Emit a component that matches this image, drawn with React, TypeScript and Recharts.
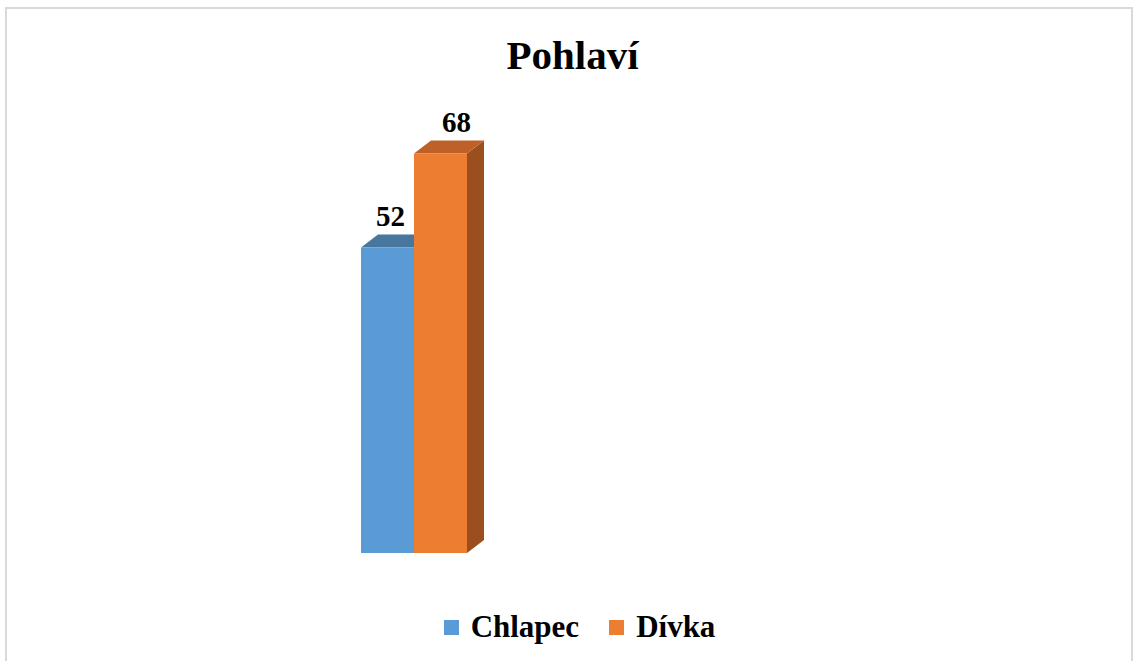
import React from 'react';
import { BarChart, Bar, XAxis, YAxis, LabelList } from 'recharts';

// Pohlaví – one category, two series
const categories = ['Pohlaví'];
const seriesNames = ['Chlapec', 'Dívka'];
const chlapecValues = [52];
const divkaValues = [68];

const FRONT = ['#5B9BD5', '#ED7D31'];
const TOP = ['#47769F', '#BE6128'];
const SIDE = ['#3D6690', '#9B4F1F'];
const DX = 17;
const DY = 13;
const FONT = '"Liberation Serif", "Times New Roman", serif';

const data = categories.map((c, i) => ({
    name: c,
    Chlapec: chlapecValues[i],
    Dívka: divkaValues[i],
}));

// 3D-ish column: front face, top face, side face
const makeShape = (idx: number) => (props: any) => {
    const { x, y, width, height } = props;
    if (height == null || height <= 0) return <g />;
    const top = `${x},${y} ${x + DX},${y - DY} ${x + width + DX},${y - DY} ${x + width},${y}`;
    const side = `${x + width},${y} ${x + width + DX},${y - DY} ${x + width + DX},${y + height - DY} ${x + width},${y + height}`;
    return (
        <g>
            <polygon points={side} fill={SIDE[idx]} />
            <polygon points={top} fill={TOP[idx]} />
            <rect x={x} y={y} width={width} height={height} fill={FRONT[idx]} />
        </g>
    );
};

const labelShift = [3, 16];

const makeLabel = (idx: number) => (props: any) => {
    const { x, y, width, value } = props;
    return (
        <text
            x={x + width / 2 + labelShift[idx]}
            y={y - DY - 9}
            textAnchor="middle"
            fontFamily={FONT}
            fontWeight="bold"
            fontSize={29}
            fill="#000"
        >
            {value}
        </text>
    );
};

export default function App() {
    return (
        <div style={{ position: 'absolute', left: 0, top: 0, width: 1137, height: 661, background: '#fff', overflow: 'hidden' }}>
            <div style={{ position: 'absolute', left: 5, top: 7, width: 1124, height: 660, border: '2px solid #D9D9D9' }} />
            <div style={{ position: 'absolute', left: 4, top: 35, width: 1137, textAlign: 'center', fontFamily: FONT, fontWeight: 'bold', fontSize: 41, lineHeight: '41px', color: '#000' }}>
                Pohlaví
            </div>
            <div style={{ position: 'absolute', left: 0, top: 0 }}>
                <BarChart width={1137} height={661} data={data} margin={{ top: 83, right: 509, bottom: 108, left: 200 }} barGap={0}>
                    <XAxis dataKey="name" hide />
                    <YAxis domain={[0, 80]} hide />
                    <Bar dataKey="Chlapec" barSize={53} shape={makeShape(0)} isAnimationActive={false}>
                        <LabelList dataKey="Chlapec" content={makeLabel(0)} />
                    </Bar>
                    <Bar dataKey="Dívka" barSize={53} shape={makeShape(1)} isAnimationActive={false}>
                        <LabelList dataKey="Dívka" content={makeLabel(1)} />
                    </Bar>
                </BarChart>
            </div>
            <div style={{ position: 'absolute', left: 11, top: 609, width: 1137, display: 'flex', justifyContent: 'center', alignItems: 'center', fontFamily: FONT, fontWeight: 'bold', fontSize: 31, color: '#000' }}>
                {seriesNames.map((n, i) => (
                    <div key={n} style={{ display: 'flex', alignItems: 'center', marginRight: i === 0 ? 30 : 0 }}>
                        <div style={{ width: 15, height: 15, background: FRONT[i], marginRight: 12 }} />
                        <span>{n}</span>
                    </div>
                ))}
            </div>
        </div>
    );
}
